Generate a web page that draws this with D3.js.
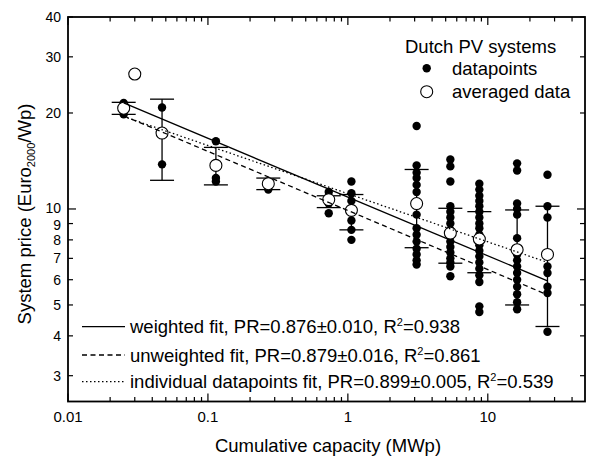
<!DOCTYPE html>
<html lang="en">
<head>
<meta charset="UTF-8">
<title>Dutch PV systems - system price vs cumulative capacity</title>
<script src="https://d3js.org/d3.v7.min.js"></script>
<style>
  body { margin: 0; background: #fff; }
  text { font-family: Arial, "Liberation Sans", sans-serif; fill: #000; }
</style>
</head>
<body>
<div id="chart"></div>
<script>
// capacity (MWp) of each group of individual systems
var capacity = [0.025, 0.047, 0.114, 0.27, 0.73, 1.06, 3.1, 5.4, 8.7, 16.2, 26.7];
// individual system prices (Euro2000/Wp) per group
var pricePoints = [
    [21.5, 19.8],
    [20.8, 13.8],
    [16.3, 12.5, 12.2],
    [12.2, 11.5],
    [11.3, 10.9, 10.4, 9.7],
    [12.2, 11.2, 10.6, 9.2, 8.6, 8.0],
    [18.2, 13.7, 13.0, 12.5, 11.9, 11.3, 9.6, 8.7, 8.3, 7.9, 7.5, 7.2, 6.9, 6.7],
    [14.3, 13.6, 12.2, 10.2, 9.8, 9.4, 9.0, 8.6, 8.2, 7.9, 7.6, 7.3, 7.0, 6.8, 6.6, 6.15],
    [12.0, 11.5, 11.0, 10.6, 10.2, 9.8, 9.4, 9.0, 8.7, 8.3, 8.0, 7.7, 7.4, 7.1, 6.8, 6.5, 6.2, 5.9, 4.95, 4.75],
    [13.9, 13.2, 10.4, 10.0, 9.6, 8.1, 7.2, 6.9, 6.6, 6.3, 6.0, 5.7, 5.4, 5.1, 4.85],
    [12.8, 10.2, 9.4, 6.6, 6.3, 5.7, 5.45, 4.12]
];

// averaged data with error bars
var avgCapacity = [0.025, 0.030, 0.047, 0.114, 0.27, 0.73, 1.06, 3.1, 5.4, 8.7, 16.2, 26.7];
var avgPrice    = [20.7, 26.5, 17.3, 13.7, 12.0, 10.7, 9.9, 10.4, 8.4, 8.05, 7.45, 7.2];
var errLow      = [19.8, null, 12.3, 11.9, 11.5, 10.1, 8.6, 7.56, 6.76, 6.31, 5.0, 4.28];
var errHigh     = [21.6, null, 22.1, 15.6, 12.5, 11.0, 11.1, 13.3, 10.05, 9.81, 9.93, 10.2];

// fit lines: [capacity, price] at both ends
var fitWeighted   = [[0.025, 21.5], [26.7, 5.95]];
var fitUnweighted = [[0.025, 19.6], [26.7, 5.38]];
var fitIndividual = [[0.025, 19.5], [26.7, 6.8]];

var legendLabels = [
    ["weighted fit, PR=0.876\u00b10.010, R", "=0.938"],
    ["unweighted fit, PR=0.879\u00b10.016, R", "=0.861"],
    ["individual datapoints fit, PR=0.899\u00b10.005, R", "=0.539"]
];

var xTickLabels = [0.01, 0.1, 1, 10];
var yTickLabels = [3, 4, 5, 6, 7, 8, 9, 10, 20, 30, 40];

var W = 589, H = 457;
var pL = 68, pR = 585, pT = 17, pB = 401.5;

var svg = d3.select("#chart").append("svg")
    .attr("width", W)
    .attr("height", H);

var x = d3.scaleLog().domain([0.01, 49.5]).range([pL, pR]);
var y = d3.scaleLog().domain([2.49, 40]).range([pB, pT]);

// minor + major ticks
var xMinor = [];
[0.01, 0.1, 1, 10].forEach(function(d) {
    for (var k = 2; k <= 9; k++) {
        if (d * k <= 49.5) xMinor.push(d * k);
    }
});
var yMinor = [3, 4, 5, 6, 7, 8, 9, 20, 30, 40];

var ax = svg.append("g").attr("stroke", "#000").attr("stroke-width", 1.2);
xTickLabels.forEach(function(d) {
    ax.append("line").attr("x1", x(d)).attr("x2", x(d)).attr("y1", pB).attr("y2", pB - 8);
    ax.append("line").attr("x1", x(d)).attr("x2", x(d)).attr("y1", pT).attr("y2", pT + 8);
});
xMinor.forEach(function(d) {
    ax.append("line").attr("x1", x(d)).attr("x2", x(d)).attr("y1", pB).attr("y2", pB - 4.5);
    ax.append("line").attr("x1", x(d)).attr("x2", x(d)).attr("y1", pT).attr("y2", pT + 4.5);
});
[10].forEach(function(d) {
    ax.append("line").attr("x1", pL).attr("x2", pL + 8).attr("y1", y(d)).attr("y2", y(d));
    ax.append("line").attr("x1", pR).attr("x2", pR - 8).attr("y1", y(d)).attr("y2", y(d));
});
yMinor.forEach(function(d) {
    ax.append("line").attr("x1", pL).attr("x2", pL + 5).attr("y1", y(d)).attr("y2", y(d));
    ax.append("line").attr("x1", pR).attr("x2", pR - 5).attr("y1", y(d)).attr("y2", y(d));
});

// frame
svg.append("rect")
    .attr("x", pL).attr("y", pT)
    .attr("width", pR - pL).attr("height", pB - pT)
    .attr("fill", "none").attr("stroke", "#000").attr("stroke-width", 1.8);

// tick labels
svg.append("g").selectAll("text").data(xTickLabels).enter().append("text")
    .attr("x", function(d) { return x(d); })
    .attr("y", 422)
    .attr("text-anchor", "middle")
    .style("font-size", "15px")
    .text(function(d) { return d; });

// 9 sits a touch lower than its tick so it clears the 10
svg.append("g").selectAll("text").data(yTickLabels).enter().append("text")
    .attr("x", 61)
    .attr("y", function(d) { return y(d) + (d === 9 ? 6 : d === 10 ? 4.5 : 5); })
    .attr("text-anchor", "end")
    .style("font-size", "14px")
    .text(function(d) { return d; });

// axis titles
svg.append("text")
    .attr("x", 328).attr("y", 452)
    .attr("text-anchor", "middle")
    .style("font-size", "18.5px")
    .text("Cumulative capacity (MWp)");

var yt = svg.append("text")
    .attr("transform", "translate(31,214) rotate(-90)")
    .attr("text-anchor", "middle")
    .style("font-size", "18.5px");
yt.append("tspan").text("System price (Euro");
yt.append("tspan").attr("dy", 4).style("font-size", "11px").text("2000");
yt.append("tspan").attr("dy", -4).text("/Wp)");

// error bars
var eb = svg.append("g").attr("stroke", "#000").attr("stroke-width", 1.3);
avgCapacity.forEach(function(c, i) {
    if (errLow[i] == null) return;
    eb.append("line").attr("x1", x(c)).attr("x2", x(c)).attr("y1", y(errLow[i])).attr("y2", y(errHigh[i]));
    eb.append("line").attr("x1", x(c) - 12).attr("x2", x(c) + 12).attr("y1", y(errLow[i])).attr("y2", y(errLow[i]));
    eb.append("line").attr("x1", x(c) - 12).attr("x2", x(c) + 12).attr("y1", y(errHigh[i])).attr("y2", y(errHigh[i]));
});

// individual datapoints
var flat = [];
capacity.forEach(function(c, i) {
    pricePoints[i].forEach(function(p) { flat.push({c: c, p: p}); });
});
svg.append("g").selectAll("circle").data(flat).enter().append("circle")
    .attr("cx", function(d) { return x(d.c); })
    .attr("cy", function(d) { return y(d.p); })
    .attr("r", 4.2)
    .attr("fill", "#000");

// averaged data
svg.append("g").selectAll("circle").data(avgCapacity).enter().append("circle")
    .attr("cx", function(d) { return x(d); })
    .attr("cy", function(d, i) { return y(avgPrice[i]); })
    .attr("r", 6)
    .attr("fill", "#fff")
    .attr("stroke", "#000")
    .attr("stroke-width", 1.1);

// fits
var fitLine = d3.line().x(function(d) { return x(d[0]); }).y(function(d) { return y(d[1]); });
var dashes = [null, "5,3.5", "1.5,2.5"];
[fitWeighted, fitUnweighted, fitIndividual].forEach(function(f, i) {
    svg.append("path").datum(f)
        .attr("d", fitLine)
        .attr("fill", "none")
        .attr("stroke", "#000")
        .attr("stroke-width", 1.3)
        .attr("stroke-dasharray", dashes[i]);
});

// legend, top right
svg.append("text").attr("x", 405).attr("y", 53).style("font-size", "18.5px").text("Dutch PV systems");
svg.append("circle").attr("cx", 426.7).attr("cy", 68.3).attr("r", 4.2).attr("fill", "#000");
svg.append("text").attr("x", 452).attr("y", 74.5).style("font-size", "18.5px").text("datapoints");
svg.append("circle").attr("cx", 426.7).attr("cy", 91.7).attr("r", 6)
    .attr("fill", "#fff").attr("stroke", "#000").attr("stroke-width", 1.1);
svg.append("text").attr("x", 452).attr("y", 98).style("font-size", "18.5px").text("averaged data");

// legend, bottom left
var ly = [326.7, 355, 381.7];
legendLabels.forEach(function(lab, i) {
    svg.append("line")
        .attr("x1", 82).attr("x2", 125).attr("y1", ly[i]).attr("y2", ly[i])
        .attr("stroke", "#000").attr("stroke-width", 1.3)
        .attr("stroke-dasharray", dashes[i]);
    var t = svg.append("text").attr("x", 130).attr("y", ly[i] + 6.5).style("font-size", "18.5px");
    t.append("tspan").text(lab[0]);
    t.append("tspan").attr("dy", -7).style("font-size", "11px").text("2");
    t.append("tspan").attr("dy", 7).text(lab[1]);
});
</script>
</body>
</html>
